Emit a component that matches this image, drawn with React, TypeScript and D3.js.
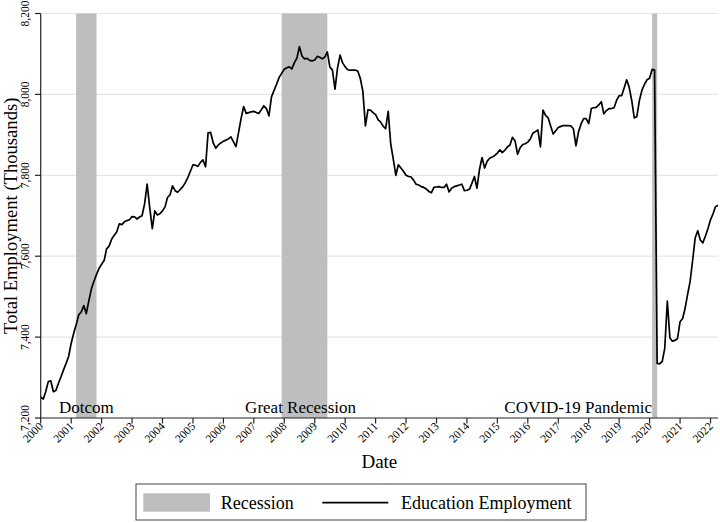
import React, { useEffect, useRef } from "react";
import * as d3 from "d3";

// Monthly education employment (thousands), starting 2000-01
const startYear = 2000;
const employment2000 = [7252, 7247, 7265, 7290, 7292, 7265, 7268, 7286, 7302, 7319, 7335, 7352];
const employment2001 = [7385, 7410, 7430, 7455, 7462, 7478, 7458, 7490, 7520, 7538, 7555, 7570];
const employment2002 = [7580, 7590, 7618, 7625, 7642, 7652, 7660, 7680, 7678, 7685, 7688, 7690];
const employment2003 = [7698, 7697, 7692, 7697, 7700, 7730, 7778, 7720, 7668, 7712, 7702, 7705];
const employment2004 = [7712, 7722, 7745, 7752, 7774, 7762, 7758, 7765, 7772, 7782, 7795, 7810];
const employment2005 = [7826, 7825, 7822, 7832, 7838, 7821, 7905, 7906, 7880, 7867, 7875, 7880];
const employment2006 = [7884, 7887, 7890, 7895, 7883, 7871, 7905, 7940, 7970, 7953, 7955, 7957];
const employment2007 = [7958, 7955, 7953, 7962, 7972, 7965, 7947, 7994, 8010, 8025, 8042, 8052];
const employment2008 = [8062, 8066, 8068, 8063, 8078, 8090, 8118, 8095, 8088, 8089, 8084, 8083];
const employment2009 = [8085, 8094, 8092, 8088, 8092, 8105, 8068, 8060, 8013, 8065, 8097, 8078];
const employment2010 = [8068, 8061, 8060, 8060, 8060, 8058, 8040, 8008, 7922, 7962, 7961, 7955];
const employment2011 = [7950, 7937, 7932, 7922, 7915, 7958, 7878, 7840, 7800, 7826, 7818, 7810];
const employment2012 = [7800, 7797, 7796, 7788, 7778, 7776, 7772, 7770, 7766, 7760, 7757, 7770];
const employment2013 = [7771, 7772, 7770, 7770, 7778, 7759, 7768, 7772, 7774, 7776, 7778, 7762];
const employment2014 = [7763, 7766, 7780, 7797, 7768, 7815, 7844, 7818, 7835, 7842, 7845, 7849];
const employment2015 = [7855, 7863, 7856, 7862, 7870, 7875, 7894, 7885, 7852, 7868, 7876, 7878];
const employment2016 = [7882, 7890, 7904, 7908, 7912, 7870, 7961, 7948, 7942, 7922, 7902, 7910];
const employment2017 = [7918, 7921, 7923, 7923, 7923, 7922, 7915, 7873, 7908, 7927, 7940, 7940];
const employment2018 = [7928, 7965, 7967, 7968, 7974, 7982, 7952, 7960, 7965, 7965, 7967, 7985];
const employment2019 = [7997, 7997, 8015, 8036, 8018, 7985, 7942, 7945, 7985, 8010, 8025, 8036];
const employment2020 = [8040, 8062, 8060, 7335, 7334, 7340, 7372, 7489, 7398, 7390, 7392, 7396];
const employment2021 = [7438, 7446, 7470, 7505, 7537, 7590, 7645, 7663, 7640, 7633, 7650, 7668];
const employment2022 = [7690, 7705, 7722, 7726];

const employmentByYear = [
  employment2000, employment2001, employment2002, employment2003, employment2004,
  employment2005, employment2006, employment2007, employment2008, employment2009,
  employment2010, employment2011, employment2012, employment2013, employment2014,
  employment2015, employment2016, employment2017, employment2018, employment2019,
  employment2020, employment2021, employment2022,
];

// Recessions
const recessionLabels = ["Dotcom", "Great Recession", "COVID-19 Pandemic"];
const recessionStarts = ["2001-03-01", "2007-12-01", "2020-02-01"];
const recessionEnds = ["2001-11-01", "2009-06-01", "2020-04-01"];

const yTicks = [7200, 7400, 7600, 7800, 8000, 8200];
const xTickYears = d3.range(2000, 2023);

const W = 720;
const H = 523;
const SERIF = "'Liberation Serif', 'Times New Roman', Times, serif";

export default function App() {
  const ref = useRef<SVGSVGElement | null>(null);

  useEffect(() => {
    const svg = d3.select(ref.current);
    svg.selectAll("*").remove();

    const data: { date: Date; value: number }[] = [];
    employmentByYear.forEach((arr, yi) => {
      arr.forEach((v, mi) => {
        data.push({ date: new Date(startYear + yi, mi, 1), value: v });
      });
    });

    const x = d3
      .scaleTime()
      .domain([new Date(2000, 0, 1), new Date(2022, 3, 1)])
      .range([40.7, 718]);
    const y = d3.scaleLinear().domain([7200, 8200]).range([418, 13.5]);
    const parse = d3.timeParse("%Y-%m-%d");

    // gridlines
    svg
      .append("g")
      .selectAll("line")
      .data(yTicks.slice(1))
      .join("line")
      .attr("x1", x.range()[0])
      .attr("x2", x.range()[1])
      .attr("y1", (d) => y(d))
      .attr("y2", (d) => y(d))
      .attr("stroke", "#e6e6e6")
      .attr("stroke-width", 1.2);

    // recession bands
    svg
      .append("g")
      .selectAll("rect")
      .data(recessionStarts.map((s, i) => ({ s: parse(s)!, e: parse(recessionEnds[i])! })))
      .join("rect")
      .attr("x", (d) => x(d.s))
      .attr("width", (d) => x(d.e) - x(d.s))
      .attr("y", y(8200))
      .attr("height", y(7200) - y(8200))
      .attr("fill", "#bebebe");

    // recession labels
    const labelPos = [
      { date: parse("2001-07-01")!, anchor: "middle" },
      { date: parse("2008-07-15")!, anchor: "middle" },
      { date: parse("2020-02-01")!, anchor: "end" },
    ];
    svg
      .append("g")
      .selectAll("text")
      .data(recessionLabels)
      .join("text")
      .attr("x", (d, i) => x(labelPos[i].date))
      .attr("y", 413)
      .attr("text-anchor", (d, i) => labelPos[i].anchor)
      .attr("font-family", SERIF)
      .attr("font-size", 17)
      .attr("fill", "#000")
      .text((d) => d);

    // line
    const line = d3
      .line<{ date: Date; value: number }>()
      .x((d) => x(d.date))
      .y((d) => y(d.value));
    svg
      .append("path")
      .datum(data)
      .attr("d", line)
      .attr("fill", "none")
      .attr("stroke", "#000")
      .attr("stroke-width", 1.7)
      .attr("stroke-linejoin", "round");

    // y axis
    const gy = svg.append("g");
    gy.append("line")
      .attr("x1", 40.7)
      .attr("x2", 40.7)
      .attr("y1", y(8200))
      .attr("y2", y(7200))
      .attr("stroke", "#222")
      .attr("stroke-width", 1.2);
    gy.selectAll("line.tick")
      .data(yTicks)
      .join("line")
      .attr("class", "tick")
      .attr("x1", 35)
      .attr("x2", 40.7)
      .attr("y1", (d) => y(d))
      .attr("y2", (d) => y(d))
      .attr("stroke", "#222")
      .attr("stroke-width", 1.2);
    const fmt = d3.format(",");
    gy.selectAll("text")
      .data(yTicks)
      .join("text")
      .attr("transform", (d) => `translate(28.5,${y(d)}) rotate(-90)`)
      .attr("text-anchor", "middle")
      .attr("font-family", SERIF)
      .attr("font-size", 11.5)
      .attr("fill", "#000")
      .text((d) => fmt(d));

    // x axis
    const gx = svg.append("g");
    gx.append("line")
      .attr("x1", 40.7)
      .attr("x2", 718)
      .attr("y1", 418)
      .attr("y2", 418)
      .attr("stroke", "#222")
      .attr("stroke-width", 1.2);
    const yearDates = xTickYears.map((yy) => new Date(yy, 0, 1));
    gx.selectAll("line.tick")
      .data(yearDates)
      .join("line")
      .attr("class", "tick")
      .attr("x1", (d) => x(d))
      .attr("x2", (d) => x(d))
      .attr("y1", 418)
      .attr("y2", 423.5)
      .attr("stroke", "#222")
      .attr("stroke-width", 1.2);
    gx.selectAll("text")
      .data(yearDates)
      .join("text")
      .attr("transform", (d) => `translate(${x(d) + 3},427) rotate(-45)`)
      .attr("text-anchor", "end")
      .attr("font-family", SERIF)
      .attr("font-size", 11.5)
      .attr("fill", "#000")
      .text((d) => d3.timeFormat("%Y")(d));

    // axis titles
    svg
      .append("text")
      .attr("x", (40.7 + 718) / 2)
      .attr("y", 468)
      .attr("text-anchor", "middle")
      .attr("font-family", SERIF)
      .attr("font-size", 19)
      .attr("fill", "#000")
      .text("Date");
    svg
      .append("text")
      .attr("transform", `translate(16.5,${(13.5 + 418) / 2}) rotate(-90)`)
      .attr("text-anchor", "middle")
      .attr("font-family", SERIF)
      .attr("font-size", 18.6)
      .attr("fill", "#000")
      .text("Total Employment (Thousands)");

    // legend
    const lg = svg.append("g");
    lg.append("rect")
      .attr("x", 136)
      .attr("y", 484)
      .attr("width", 450)
      .attr("height", 36)
      .attr("fill", "#fff")
      .attr("stroke", "#444")
      .attr("stroke-width", 1);
    lg.append("rect")
      .attr("x", 143.3)
      .attr("y", 493.3)
      .attr("width", 66.7)
      .attr("height", 18.4)
      .attr("fill", "#bebebe");
    lg.append("text")
      .attr("x", 220.7)
      .attr("y", 509)
      .attr("font-family", SERIF)
      .attr("font-size", 18)
      .attr("fill", "#000")
      .text("Recession");
    lg.append("line")
      .attr("x1", 322.3)
      .attr("x2", 388.3)
      .attr("y1", 502.7)
      .attr("y2", 502.7)
      .attr("stroke", "#000")
      .attr("stroke-width", 1.7);
    lg.append("text")
      .attr("x", 401)
      .attr("y", 509)
      .attr("font-family", SERIF)
      .attr("font-size", 18)
      .attr("fill", "#000")
      .text("Education Employment");
  }, []);

  return (
    <div style={{ position: "absolute", left: 0, top: 0, width: W, height: H, background: "#fff" }}>
      <svg ref={ref} width={W} height={H} style={{ display: "block" }} />
    </div>
  );
}
